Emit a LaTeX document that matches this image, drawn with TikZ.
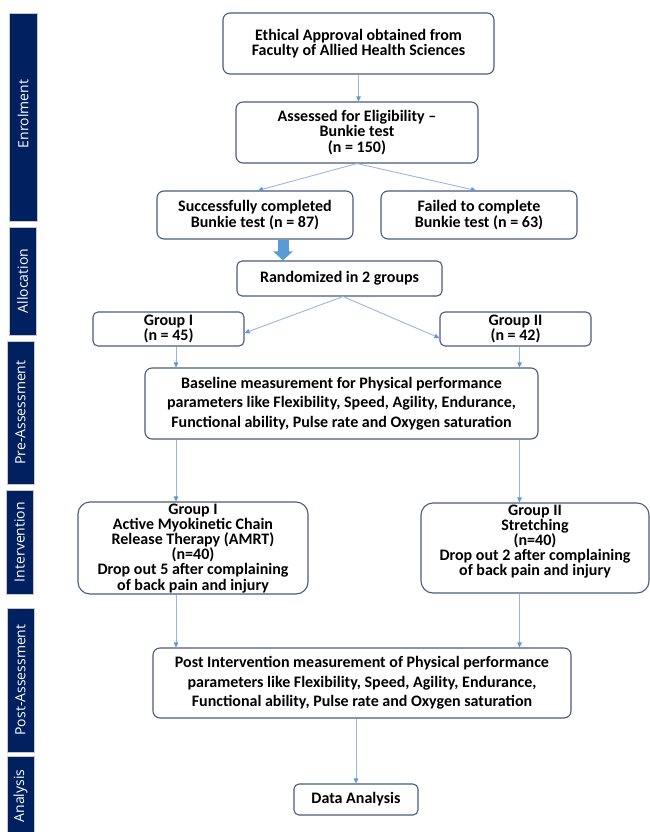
\documentclass[tikz,border=0pt]{standalone}
\usepackage{fontspec}
\setmainfont{Carlito}
\newfontfamily\barfont{Open Sans}
\usetikzlibrary{arrows.meta}
\definecolor{navy}{HTML}{002060}
\definecolor{boxline}{HTML}{4A5B7C}
\definecolor{connc}{HTML}{9BB7DC}
\definecolor{tipc}{HTML}{5B9BD5}
\definecolor{bigarrow}{HTML}{5B9BD5}
\tikzset{
  box/.style={draw=boxline, line width=1.1pt, rounded corners=7pt, fill=white,
    align=center, inner sep=0pt, font=\bfseries\fontsize{16}{15.5}\selectfont},
  widebox/.style={box, font=\bfseries\fontsize{16}{19.5}\selectfont},
  boxtext/.style={align=center, inner sep=0pt, font=\bfseries\fontsize{16}{15.2}\selectfont},
  conn/.style={draw=connc, line width=0.9pt, -{Triangle[length=5pt,width=4.5pt,color=tipc]}},
  bar/.style={fill=navy, draw=gray!45, line width=0.6pt},
  bartext/.style={rotate=90, text=white, inner sep=0pt, font=\barfont\fontsize{14}{14}\selectfont}
}
\begin{document}
\begin{tikzpicture}[x=1pt,y=-1pt]
\useasboundingbox (0,0) rectangle (650,832);

% side bars
\filldraw[bar] (9,13) rectangle (37,221);
\node[bartext] (b1) at (23,114) {Enrolment};
\filldraw[bar] (9,227) rectangle (36,335);
\node[bartext] (b2) at (22.5,281) {Allocation};
\filldraw[bar] (7,341) rectangle (34,484);
\node[bartext] (b3) at (20.5,412.5) {Pre-Assessment};
\filldraw[bar] (6,490) rectangle (33,594);
\node[bartext] (b4) at (19.5,542) {Intervention};
\filldraw[bar] (7,608) rectangle (34,752);
\node[bartext] (b5) at (20.5,680) {Post-Assessment};
\filldraw[bar] (7,756) rectangle (34,833);
\node[bartext] (b6) at (20.5,796) {Analysis};

% boxes
\node[box, minimum width=271pt, minimum height=61pt] (eth) at (358.5,43.5)
  {Ethical Approval obtained from\\Faculty of Allied Health Sciences};
\node[box, minimum width=242pt, minimum height=61pt] (ass) at (357,132.5)
  {Assessed for Eligibility --\\Bunkie test\\(n = 150)};
\node[box, minimum width=196pt, minimum height=48pt] (succ) at (255,215)
  {Successfully completed\\Bunkie test (n = 87)};
\node[box, minimum width=196pt, minimum height=48pt] (fail) at (479,215)
  {Failed to complete\\Bunkie test (n = 63)};
\node[box, rounded corners=5pt, minimum width=205pt, minimum height=35pt] (rand) at (339.5,278.5)
  {Randomized in 2 groups};
\node[box, rounded corners=5pt, minimum width=151pt, minimum height=34pt] (g1) at (168.5,329)
  {Group I\\(n = 45)};
\node[box, rounded corners=5pt, minimum width=151pt, minimum height=34pt] (g2) at (515.5,329)
  {Group II\\(n = 42)};
\node[widebox, minimum width=393pt, minimum height=71pt] (base) at (341.5,403.5)
  {Baseline measurement for Physical performance\\parameters like Flexibility, Speed, Agility, Endurance,\\Functional ability, Pulse rate and Oxygen saturation};
\node[box, rounded corners=12pt, minimum width=230pt, minimum height=92pt] (i1) at (193,548) {};
\node[boxtext, anchor=north] (i1t) at ([yshift=-2pt]i1.north)
  {Group I\\Active Myokinetic Chain\\Release Therapy (AMRT)\\(n=40)\\Drop out 5 after complaining\\of back pain and injury};
\node[box, rounded corners=12pt, minimum width=228pt, minimum height=90pt] (i2) at (535,548) {};
\node[boxtext, anchor=north] (i2t) at ([yshift=-2pt]i2.north)
  {Group II\\Stretching\\(n=40)\\Drop out 2 after complaining\\of back pain and injury};
\node[widebox, minimum width=418pt, minimum height=70pt] (post) at (362,683)
  {Post Intervention measurement of Physical performance\\parameters like Flexibility, Speed, Agility, Endurance,\\Functional ability, Pulse rate and Oxygen saturation};
\node[box, rounded corners=5pt, minimum width=124pt, minimum height=31pt] (da) at (356,799.5)
  {Data Analysis};

% helper columns
\coordinate (cl) at (176,0);
\coordinate (cr) at (519.5,0);
\coordinate (ta) at (283,0);

% connectors
\draw[conn] (eth.south) -- (eth.south |- ass.north);
\draw[conn] (ass.south) -- ([xshift=3pt]succ.north);
\draw[conn] (ass.south) -- ([xshift=-3pt]fail.north);
\draw[draw=bigarrow, line width=11pt, -{Triangle[length=9pt,width=19pt]}]
  ([yshift=-0.6pt]succ.south -| ta) -- (rand.north -| ta);
\draw[conn] ([xshift=3.5pt]rand.south) -- ([yshift=-4pt]g1.east);
\draw[conn] ([xshift=3.5pt]rand.south) -- ([yshift=-9pt]g2.west);
\draw[conn] (g1.south -| cl) -- (base.north -| cl);
\draw[conn] (g2.south -| cr) -- (base.north -| cr);
\draw[conn] (base.south -| cl) -- (i1.north -| cl);
\draw[conn] (base.south -| cr) -- (i2.north -| cr);
\draw[conn] (i1.south -| cl) -- (post.north -| cl);
\draw[conn] (i2.south -| cr) -- (post.north -| cr);
\draw[conn] (post.south -| da.north) -- (da.north);
\end{tikzpicture}
\end{document}
